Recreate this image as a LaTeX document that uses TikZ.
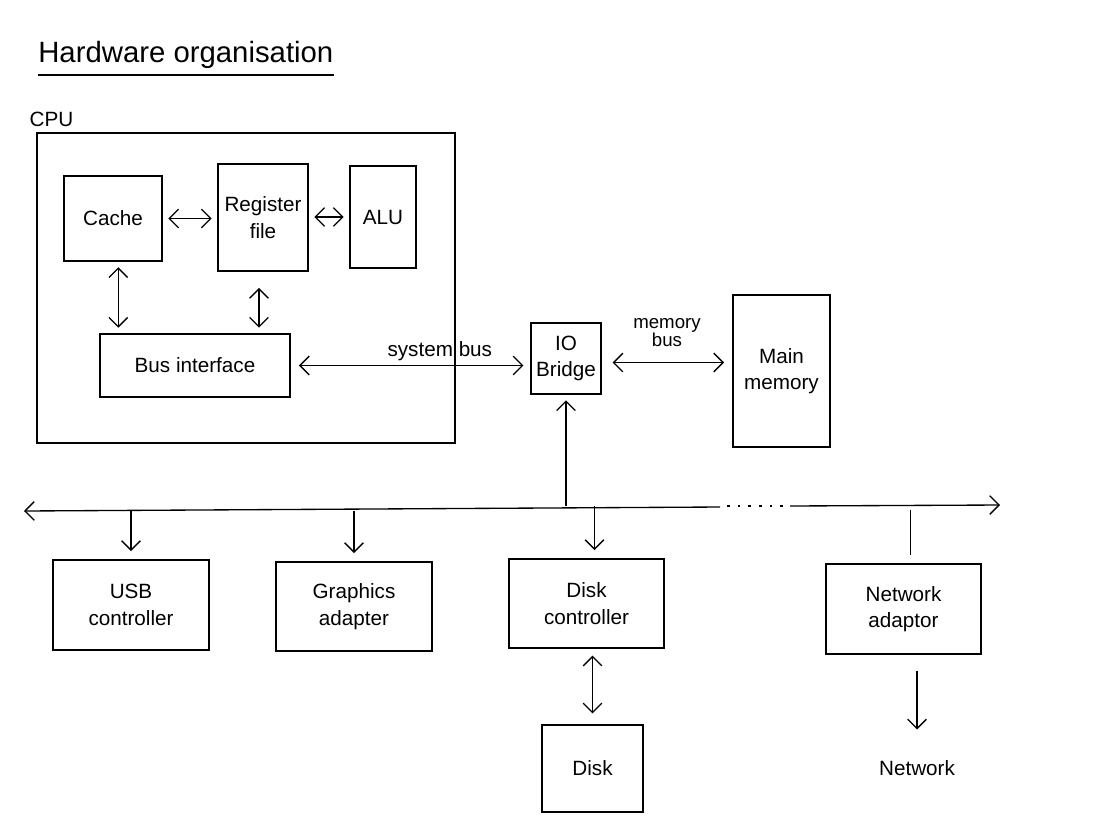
\documentclass[tikz,border=0pt]{standalone}
\usepackage{fontspec}
\setmainfont{Liberation Sans}
\usetikzlibrary{arrows.meta}
\begin{document}
\begin{tikzpicture}[x=0.75pt,y=-0.75pt,
  blk/.style n args={2}{draw, line width=1.4pt, minimum width={#1*0.75pt}, minimum height={#2*0.75pt}, inner sep=0pt, align=center, font=\fontsize{15.5}{20}\selectfont},
  lbl/.style={align=center, inner sep=1pt, font=\fontsize{15.5}{17}\selectfont},
  conn/.style={line width=1pt, >={Straight Barb[length=7pt,width=14pt]}},
  dbl/.style={conn, <->, shorten >=4pt, shorten <=4pt},
  one/.style={conn, ->, shorten >=6pt}]
\useasboundingbox (0,0) rectangle (1095,832);
% title
\node[font=\fontsize{22}{24}\selectfont, inner sep=0pt, anchor=base west] (title) at (38,62) {Hardware organisation};
\draw[line width=1pt] ([yshift=-5pt]title.south west) -- ([yshift=-5pt]title.south east);
% CPU
\node[lbl, anchor=south west] (cpulbl) at (28,128) {CPU};
\node[blk={418}{310}] (cpu) at (246,288) {};
\node[blk={98}{85}] (cache) at (113,218.5) {Cache};
\node[blk={90}{107}] (reg) at (263,217.5) {Register\\file};
\node[blk={66}{102}] (alu) at (383,217) {ALU};
\node[blk={190}{63}] (bus) at (195,365.5) {Bus interface};
\draw[dbl] (cache.east) -- (cache.east -| reg.west);
\draw[dbl] (reg.east |- alu.west) -- (alu.west);
\draw[dbl] ([xshift=4pt]cache.south) -- ([xshift=4pt]cache.south |- bus.north);
\draw[dbl] ([yshift=-8pt,xshift=-3pt]reg.south) -- ([xshift=-3pt]reg.south |- bus.north);
% IO bridge and memory
\node[blk={70}{71}] (iob) at (566,358.5) {IO\\Bridge};
\node[blk={97}{152}] (mem) at (781.5,371) {Main\\memory};
\draw[dbl, shorten >=5pt, shorten <=6pt] (bus.east) -- (bus.east -| iob.west) node[lbl, midway, above=2pt, xshift=22pt] (sysbus) {system bus};
\draw[dbl, shorten >=6pt, shorten <=8pt] ([yshift=-3pt]iob.east) -- ([yshift=-3pt]iob.east -| mem.west) node[lbl, midway, above=10pt, font=\fontsize{14}{13}\selectfont] (membus) {memory\\bus};
% IO bus
\coordinate (busL) at (24,511);
\coordinate (dA) at (720,507);
\coordinate (dB) at (727,506);
\coordinate (dC) at (785,506);
\coordinate (dD) at (790,506);
\coordinate (busR) at (1000,505);
\draw[conn,<-] (busL) -- (dA);
\draw[conn, line width=1.4pt, dash pattern=on 2pt off 6pt] (dB) -- (dC);
\draw[conn,->] (dD) -- (busR);
\draw[one, shorten >=4pt] ([yshift=4pt]iob.south |- busL) -- (iob.south);
% devices
\node[blk={156}{90}] (usb) at (131,605) {USB\\controller};
\node[blk={156}{89}] (gfx) at (354,606.5) {Graphics\\adapter};
\node[blk={155}{89}] (dc) at (586.5,603.5) {Disk\\controller};
\node[blk={155}{90}] (na) at (903.5,609) {Network\\adaptor};
\node[blk={101}{87}] (disk) at (592.5,768.5) {Disk};
\node[lbl] (net) at (917,768) {Network};
\draw[one] (usb.north |- busL) -- (usb.north);
\draw[one] (gfx.north |- busL) -- (gfx.north);
\draw[one] ([xshift=6pt,yshift=4pt]dc.north |- busL) -- ([xshift=6pt]dc.north);
\draw[conn, shorten >=6pt] ([xshift=5pt,yshift=1pt]na.north |- busL) -- ([xshift=5pt]na.north);
\draw[dbl, shorten <=5pt, shorten >=8pt] (disk.north |- dc.south) -- (disk.north);
\draw[one, shorten <=12pt, shorten >=22pt] (net.north |- na.south) -- (net.north);
\end{tikzpicture}
\end{document}
